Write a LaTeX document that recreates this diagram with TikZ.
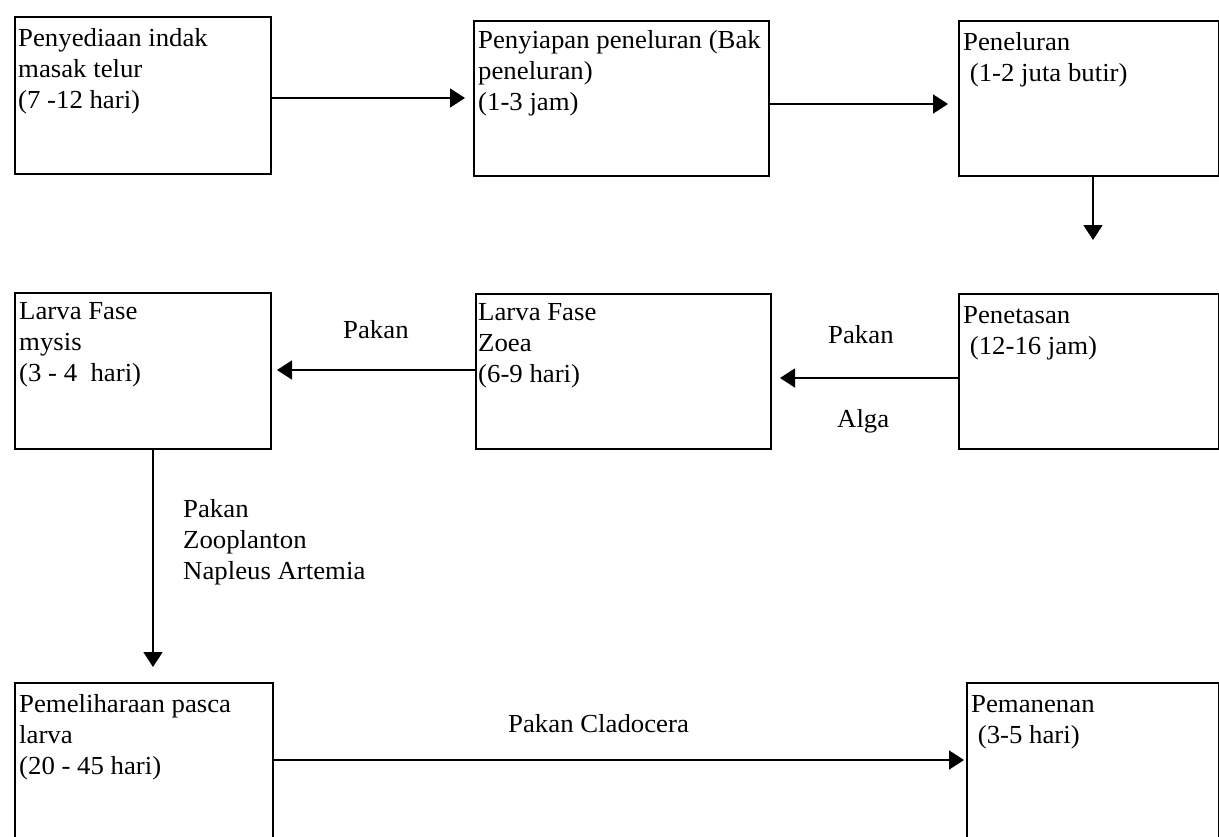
\documentclass[tikz,border=0pt]{standalone}
\usepackage{fontspec}
\setmainfont[FakeStretch=1.03]{Liberation Serif}
\usetikzlibrary{arrows.meta,calc}
% multi-line text whose reference point is the baseline of its first line
\newcommand{\stagelines}[1]{\begin{tabular}[t]{@{}l@{}}#1\end{tabular}}
\begin{document}
\begin{tikzpicture}[x=1pt,y=-1pt,
  stage/.style={draw, line width=2pt, rectangle, inner sep=0pt, anchor=north west},
  arr/.style={line width=1.7pt, -{Triangle[length=15pt,width=19pt]}},
  txt/.style={anchor=base west, inner sep=0pt, font=\fontsize{26}{31}\selectfont}]
\useasboundingbox (0,0) rectangle (1219,836);

% stage boxes
\node[stage, minimum width=256pt, minimum height=157pt] (b1) at (14,16) {};
\node[stage, minimum width=295pt, minimum height=155pt] (b2) at (473,20) {};
\node[stage, minimum width=260pt, minimum height=155pt] (b3) at (958,20) {};
\node[stage, minimum width=260pt, minimum height=155pt] (b4) at (958,293) {};
\node[stage, minimum width=295pt, minimum height=155pt] (b5) at (475,293) {};
\node[stage, minimum width=256pt, minimum height=156pt] (b6) at (14,292) {};
\node[stage, minimum width=258pt, minimum height=170pt] (b7) at (14,682) {};
\node[stage, minimum width=252pt, minimum height=170pt] (b8) at (966,682) {};

% stage texts
\node[txt] (t1) at ($(b1.north west)+(4,30.5)$) {\stagelines{Penyediaan indak\\masak telur\\(7 -12 hari)}};
\node[txt] (t2) at ($(b2.north west)+(5,28)$) {\stagelines{Penyiapan peneluran (Bak\\peneluran)\\(1-3 jam)}};
\node[txt] (t3) at ($(b3.north west)+(5,30)$) {\stagelines{Peneluran\\\ (1-2 juta butir)}};
\node[txt] (t4) at ($(b4.north west)+(5,30)$) {\stagelines{Penetasan\\\ (12-16 jam)}};
\node[txt] (t5) at ($(b5.north west)+(3,27)$) {\stagelines{Larva Fase\\Zoea\\(6-9 hari)}};
\node[txt] (t6) at ($(b6.north west)+(5,27)$) {\stagelines{Larva Fase\\mysis\\(3 - 4\ \ hari)}};
\node[txt] (t7) at ($(b7.north west)+(5,30)$) {\stagelines{Pemeliharaan pasca\\larva\\(20 - 45 hari)}};
\node[txt] (t8) at ($(b8.north west)+(5,30)$) {\stagelines{Pemanenan\\\ (3-5 hari)}};

% connectors
\draw[arr, shorten >=8pt] ([yshift=-2.5pt]b1.east) -- ([yshift=-2.5pt]b1.east -| b2.west);
\draw[arr, shorten >=10pt] ([yshift=-5.5pt]b2.east) -- ([yshift=-5.5pt]b2.east -| b3.west);
\draw[arr, shorten >=53pt] ([xshift=4pt]b3.south) -- ([xshift=4pt]b4.north);
\draw[arr, shorten >=8pt] ([yshift=-6.5pt]b4.west) -- ([yshift=-6.5pt]b4.west -| b5.east);
\draw[arr, shorten >=5pt] ([yshift=1.5pt]b5.west) -- ([yshift=1.5pt]b5.west -| b6.east);
\draw[arr, shorten >=15pt] ([xshift=10pt]b6.south) -- ([xshift=10pt]b6.south |- b7.north);
\draw[arr, shorten >=2pt] ($(b7.north east)+(0,78)$) -- ($(b8.north west)+(0,78)$);

% feed labels
\node[txt] (l1) at (343,338) {Pakan};
\node[txt] (l2) at (828,343) {Pakan};
\node[txt] (l3) at (837,427) {Alga};
\node[txt] (l4) at (183,517) {\stagelines{Pakan\\Zooplanton\\Napleus Artemia}};
\node[txt] (l5) at (508,732) {Pakan Cladocera};
\end{tikzpicture}
\end{document}
